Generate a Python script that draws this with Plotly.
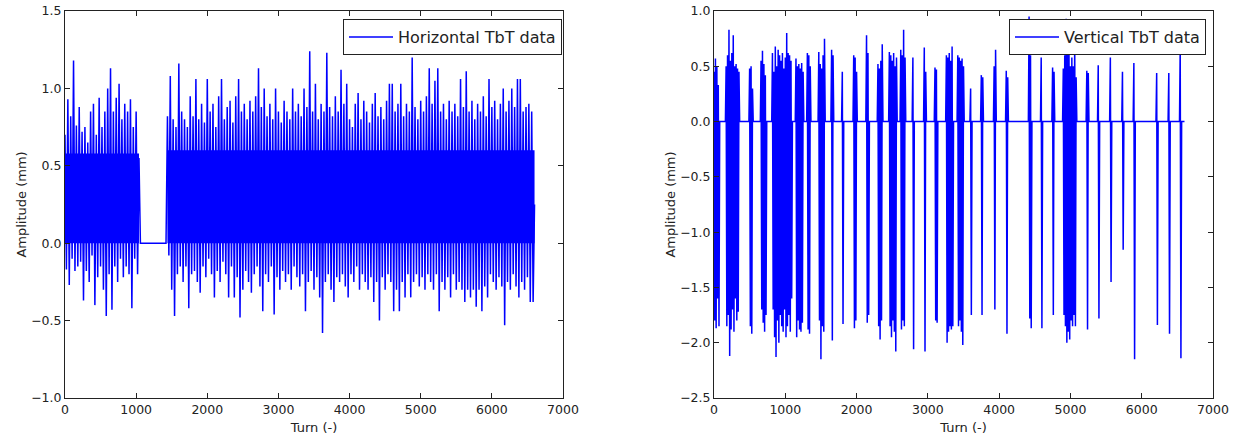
import plotly.graph_objects as go

# ---------------- Horizontal TbT data (mm) ----------------
# first active segment: turns 0..1040, one reading every 20 turns
h_seg1_start = 0
h_seg1 = [
    0.70, -0.17, 0.93, -0.27, 0.82, -0.10, 1.18, -0.18, 0.76, -0.15,
    0.88, -0.12, 0.72, -0.37, 0.75, -0.18, 0.65, -0.25, 0.85, -0.08,
    0.90, -0.40, 0.70, -0.22, 0.94, -0.15, 0.75, -0.30, 0.85, -0.47,
    1.00, -0.20, 1.13, -0.43, 0.85, -0.15, 0.94, -0.25, 1.03, -0.10,
    0.80, -0.22, 0.90, -0.15, 0.85, -0.20, 0.93, -0.42, 0.75, -0.10,
    0.85, -0.20, 0.55,
]
# no signal between these turns
h_gap_turns = [1060, 1420]
h_gap_values = [0.0, 0.0]
# second active segment: turns 1440..6600, one reading every 20 turns
h_seg2_start = 1440
h_seg2 = [
    0.82, -0.08, 1.08, -0.30, 0.80, -0.47, 0.75, -0.20, 1.16, -0.15,
    0.85, -0.25, 0.80, -0.15, 0.75, -0.42, 0.95, -0.20, 0.82, -0.18,
    1.06, -0.25, 0.80, -0.32, 0.90, -0.15, 0.78, -0.22, 1.06, -0.10,
    0.85, -0.20, 0.90, -0.35, 0.75, -0.18, 0.95, -0.25, 1.06, -0.12,
    0.80, -0.20, 0.88, -0.35, 0.92, -0.15, 0.78, -0.35, 0.95, -0.22,
    1.06, -0.48, 0.85, -0.30, 0.90, -0.18, 0.80, -0.25, 0.92, -0.32,
    0.85, -0.20, 0.95, -0.15, 1.13, -0.28, 0.88, -0.44, 1.00, -0.20,
    0.82, -0.25, 0.90, -0.15, 0.80, -0.46, 1.00, -0.22, 0.85, -0.30,
    0.78, -0.18, 0.92, -0.25, 0.85, -0.20, 0.80, -0.30, 1.00, -0.15,
    0.85, -0.22, 0.90, -0.28, 0.82, -0.20, 1.00, -0.44, 0.88, -0.25,
    1.24, -0.18, 0.85, -0.30, 1.03, -0.22, 0.80, -0.35, 0.90, -0.58,
    0.85, -0.25, 1.23, -0.20, 0.88, -0.30, 0.82, -0.38, 0.95, -0.22,
    0.85, -0.25, 1.12, -0.20, 0.90, -0.28, 1.03, -0.35, 0.80, -0.20,
    0.75, -0.25, 0.90, -0.15, 0.97, -0.30, 0.80, -0.20, 0.92, -0.25,
    0.85, -0.30, 0.78, -0.22, 0.90, -0.38, 0.97, -0.25, 0.82, -0.50,
    0.88, -0.22, 0.80, -0.30, 0.92, -0.20, 1.03, -0.25, 1.03, -0.44,
    0.85, -0.30, 0.90, -0.44, 1.03, -0.25, 0.82, -0.35, 0.90, -0.20,
    0.85, -0.35, 1.20, -0.25, 0.88, -0.20, 0.80, -0.28, 0.92, -0.22,
    0.85, -0.30, 0.95, -0.20, 1.13, -0.25, 0.90, -0.30, 1.05, -0.20,
    1.13, -0.44, 0.85, -0.25, 0.90, -0.30, 0.80, -0.22, 0.92, -0.35,
    0.85, -0.20, 0.90, -0.30, 0.82, -0.25, 1.06, -0.30, 0.88, -0.38,
    1.11, -0.30, 0.85, -0.35, 0.92, -0.30, 0.80, -0.41, 0.90, -0.30,
    0.85, -0.44, 0.95, -0.28, 0.82, -0.35, 1.06, -0.20, 0.88, -0.25,
    0.92, -0.30, 0.80, -0.22, 0.90, -0.28, 1.00, -0.53, 0.85, -0.25,
    0.92, -0.30, 1.00, -0.20, 0.88, -0.28, 1.06, -0.35, 1.06, -0.25,
    0.85, -0.30, 0.88, -0.22, 0.90, -0.38, 0.85, -0.38,
    0.25,
]
h_step = 20
# densely overplotted core of each active segment (solid blue in the picture)
h_core_start = [0, 1440]
h_core_end = [1040, 6600]
h_core_low = [0.0, 0.0]
h_core_high = [0.58, 0.6]

# ---------------- Vertical TbT data (mm) ----------------
# bursts of signal: start turn and readings every 10 turns; zero elsewhere
v_burst_starts = [
    0, 170, 500, 660, 820, 1150, 1310, 1470, 1650, 1800, 1960, 2140,
    2300, 2460, 2620, 2790, 2950, 3100, 3260, 3420, 3600, 3750, 3930,
    4100, 4420, 4590, 4750, 4900, 5230, 5390, 5560, 5730, 5890, 6210,
    6380, 6540,
]
v_burst_values = [
    [0.45, -1.80, 0.57, -1.87, 0.50, -1.60, 0.33, -1.85],
    [0.50, -1.85, 0.60, -1.75, 0.83, -2.12, 0.55, -1.88, 0.62, -1.70,
     0.78, -1.90, 0.50, -1.60, 0.52, -1.80, 0.48, -1.72, 0.45],
    [0.48, -1.85, 0.50, -1.92, 0.30],
    [0.55, -1.70, 0.64, -1.82, 0.52, -1.90, 0.42, -1.75],
    [0.62, -1.70, 0.45, -1.95, 0.68, -2.13, 0.50, -1.80, 0.65, -2.00,
     0.60, -1.75, 0.55, -1.85, 0.62, -1.90, 0.48, -1.70, 0.58, -1.95,
     0.80, -1.85, 0.62, -1.75, 0.60, -1.90, 0.55, -1.60],
    [0.57, -1.95, 0.50, -1.80, 0.52, -1.88, 0.48, -1.90, 0.53, -1.82, 0.45],
    [0.62, -1.88, 0.60, -1.92, 0.50],
    [0.63, -1.80, 0.52, -2.15, 0.48, -1.85, 0.60, -1.90, 0.75],
    [0.65, -1.98, 0.60],
    [0.45, -1.83],
    [0.60, -1.87, 0.58, -1.80, 0.45],
    [0.78, -1.82, 0.62, -1.75],
    [0.52, -1.85, 0.48, -1.97, 0.55, -1.80, 0.70],
    [0.63, -1.85, 0.60, -1.95, 0.55, -1.80, 0.62, -1.90, 0.50, -2.08, 0.58],
    [0.65, -1.88, 0.60, -1.80, 0.83, -1.85, 0.58],
    [0.58, -2.06],
    [0.67, -2.08, 0.45],
    [0.49, -1.80, 0.47, -1.82],
    [0.60, -2.00, 0.58, -1.90, 0.62, -1.85, 0.55, -1.88, 0.68, -1.85],
    [0.60, -1.85, 0.58, -1.80, 0.55, -1.90, 0.57, -2.02, 0.50],
    [0.30, -1.75],
    [0.42, -1.75, 0.40],
    [0.50, -1.70, 0.65],
    [0.46, -1.92, 0.40],
    [0.95, -1.78, 0.60, -1.87],
    [0.58, -1.87],
    [0.49, -1.75, 0.45],
    [0.48, -1.75, 0.60, -1.85, 0.93, -2.00, 0.70, -1.90, 0.62, -1.97,
     0.50, -1.80, 0.58, -1.85, 0.50, -1.75, 0.80, -1.85, 0.40],
    [0.46, -1.88, 0.44],
    [0.51, -1.78],
    [0.58, -1.45],
    [0.45, -1.16],
    [0.53, -2.15],
    [0.44, -1.84],
    [0.44, -1.92],
    [0.67, -2.14],
]
v_step = 10
v_last_turn = 6600

x_ticks = [0, 1000, 2000, 3000, 4000, 5000, 6000, 7000]
h_y_ticks = [-1.0, -0.5, 0.0, 0.5, 1.0, 1.5]
v_y_ticks = [-2.5, -2.0, -1.5, -1.0, -0.5, 0.0, 0.5, 1.0]

# ---------------- assemble series ----------------
hx = [h_seg1_start + i * h_step for i in range(len(h_seg1))] + h_gap_turns + \
     [h_seg2_start + i * h_step for i in range(len(h_seg2))]
hy = h_seg1 + h_gap_values + h_seg2

core_x, core_y = [], []
for a, b, lo, hi in zip(h_core_start, h_core_end, h_core_low, h_core_high):
    core_x += [a, b, b, a, a, None]
    core_y += [lo, lo, hi, hi, lo, None]

vx, vy = [], []
for s, vals in zip(v_burst_starts, v_burst_values):
    if vx and s - v_step > vx[-1]:
        vx.append(s - v_step)
        vy.append(0.0)
    for i, v in enumerate(vals):
        vx.append(s + i * v_step)
        vy.append(v)
    vx.append(s + len(vals) * v_step)
    vy.append(0.0)
vx.append(v_last_turn)
vy.append(0.0)

BLUE = "#0000ff"
INK = "#222222"
FONT = "DejaVu Sans, Arial, sans-serif"
TICK_FS = 12.5
TITLE_FS = 13

fig = go.Figure()
fig.add_trace(go.Scatter(x=core_x, y=core_y, mode="lines", fill="toself",
                         fillcolor=BLUE, line=dict(color=BLUE, width=0),
                         showlegend=False, hoverinfo="skip",
                         xaxis="x", yaxis="y"))
fig.add_trace(go.Scatter(x=hx, y=hy, mode="lines", name="Horizontal TbT data",
                         line=dict(color=BLUE, width=1.5, simplify=False),
                         xaxis="x", yaxis="y", legend="legend"))
fig.add_trace(go.Scatter(x=vx, y=vy, mode="lines", name="Vertical TbT data",
                         line=dict(color=BLUE, width=1.5, simplify=False),
                         xaxis="x2", yaxis="y2", legend="legend2"))

W, H = 1236, 441
ydom = [1 - 398 / H, 1 - 11 / H]
axis_common = dict(showline=True, linecolor=INK, linewidth=1, mirror="ticks",
                   ticks="inside", ticklen=5, tickcolor=INK, showgrid=False,
                   zeroline=False, automargin=False,
                   tickfont=dict(family=FONT, size=TICK_FS, color=INK))

fig.update_layout(
    width=W, height=H,
    margin=dict(l=0, r=0, t=0, b=0),
    paper_bgcolor="white", plot_bgcolor="white",
    font=dict(family=FONT, size=TICK_FS, color=INK),
    showlegend=True,
    xaxis=dict(domain=[65 / W, 563 / W], range=[0, 7000], tickvals=x_ticks,
               title=dict(text="Turn (-)", standoff=6, font=dict(size=TITLE_FS)),
               anchor="y", **axis_common),
    yaxis=dict(domain=ydom, range=[-1.0, 1.5], tickvals=h_y_ticks, tickformat=".1f",
               title=dict(text="Amplitude (mm)", standoff=1, font=dict(size=TITLE_FS)),
               anchor="x", **axis_common),
    xaxis2=dict(domain=[714 / W, 1213 / W], range=[0, 7000], tickvals=x_ticks,
                title=dict(text="Turn (-)", standoff=6, font=dict(size=TITLE_FS)),
                anchor="y2", **axis_common),
    yaxis2=dict(domain=ydom, range=[-2.5, 1.0], tickvals=v_y_ticks, tickformat=".1f",
                title=dict(text="Amplitude (mm)", standoff=1, font=dict(size=TITLE_FS)),
                anchor="x2", **axis_common),
    legend=dict(x=562 / W, y=1 - 19 / H, xanchor="right", yanchor="top",
                bgcolor="white", bordercolor=INK, borderwidth=1, itemwidth=44,
                font=dict(family=FONT, size=16, color=INK)),
    legend2=dict(x=1206 / W, y=1 - 19 / H, xanchor="right", yanchor="top",
                 bgcolor="white", bordercolor=INK, borderwidth=1, itemwidth=44,
                 font=dict(family=FONT, size=16, color=INK)),
)

fig.write_html("out.html")
